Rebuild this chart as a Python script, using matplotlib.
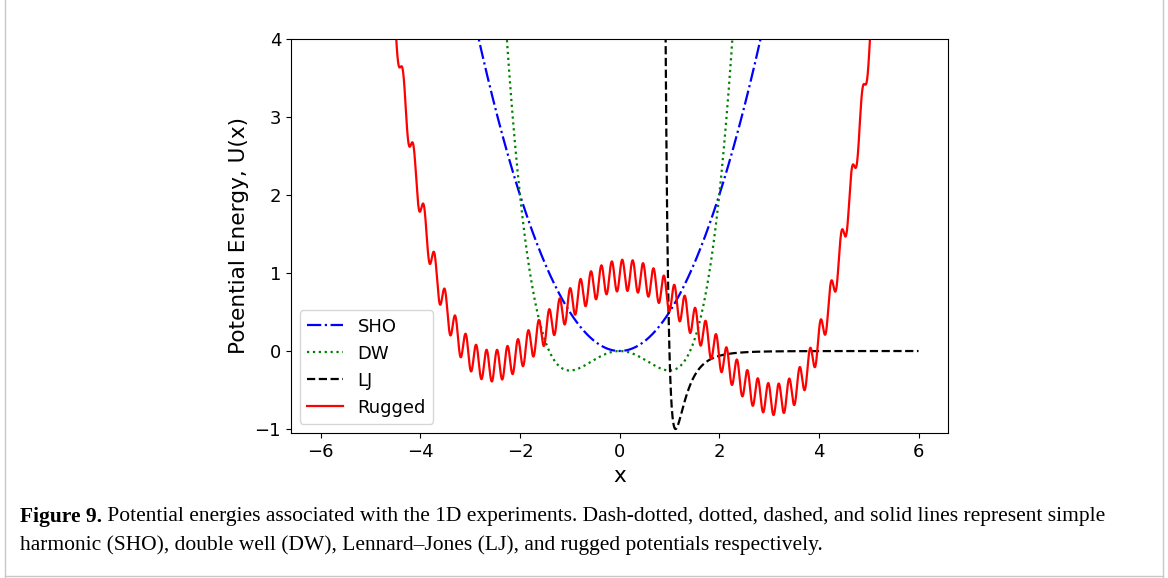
import matplotlib
matplotlib.use("Agg")
import matplotlib.pyplot as plt
import numpy as np
from matplotlib.lines import Line2D

# curve parameters
x_range = (-6.0, 6.0)
lj_range = (0.8, 6.0)
sho_coefs = [0.5, 0.0, 0.0]                       # U = x^2 / 2
dw_coefs = [0.25, 0.0, -0.5, 0.0, 0.0]             # U = x^4/4 - x^2/2
lj_eps, lj_sigma = 1.0, 1.0
rugged_coefs = [0.0211, -0.0183, -0.3343, 0.0709, 0.968]
rugged_amp, rugged_freq = 0.2, 30.0

labels = ["SHO", "DW", "LJ", "Rugged"]
xticks = [-6, -4, -2, 0, 2, 4, 6]
yticks = [-1, 0, 1, 2, 3, 4]

caption_bold = "Figure 9."
caption_rest = (" Potential energies associated with the 1D experiments. Dash-dotted, dotted, dashed, and solid lines represent simple",
                "harmonic (SHO), double well (DW), Lennard\u2013Jones (LJ), and rugged potentials respectively.")

x = np.linspace(x_range[0], x_range[1], 4000)
x_lj = np.linspace(lj_range[0], lj_range[1], 2000)
u_sho = np.polyval(sho_coefs, x)
u_dw = np.polyval(dw_coefs, x)
u_lj = 4 * lj_eps * ((lj_sigma / x_lj) ** 12 - (lj_sigma / x_lj) ** 6)
u_rug = np.polyval(rugged_coefs, x) + rugged_amp * np.sin(rugged_freq * x)

fig = plt.figure(figsize=(11.68, 5.78), dpi=100)
ax = fig.add_axes([0.249, 0.251, 0.563, 0.6815])
ax.plot(x, u_sho, 'b-.', lw=1.6, label=labels[0])
ax.plot(x, u_dw, 'g:', lw=1.6, label=labels[1])
ax.plot(x_lj, u_lj, 'k--', lw=1.6, label=labels[2])
ax.plot(x, u_rug, 'r-', lw=1.6, label=labels[3])
ax.set_xlim(-6.6, 6.6)
ax.set_ylim(-1.05, 4)
ax.set_xticks(xticks)
ax.set_yticks(yticks)
ax.tick_params(labelsize=13)
ax.set_xlabel("x", fontsize=15.6)
ax.set_ylabel("Potential Energy, U(x)", fontsize=15.6)
ax.legend(loc='lower left', fontsize=13)

# caption
t1 = fig.text(20 / 1168, 1 - 517 / 578, caption_bold, family='Liberation Serif',
              fontsize=15.5, weight='bold', va='center')
fig.canvas.draw()
bb = t1.get_window_extent()
fig.text(bb.x1 / fig.bbox.width, 1 - 517 / 578, caption_rest[0], family='Liberation Serif',
         fontsize=15.5, va='center')
fig.text(20 / 1168, 1 - 545 / 578, caption_rest[1], family='Liberation Serif',
         fontsize=15.5, va='center')

# thin frame around the figure panel
for xs, ys in [([0.004, 0.004], [0, 1]), ([0.996, 0.996], [0, 1]), ([0.004, 0.996], [0.003, 0.003])]:
    fig.add_artist(Line2D(xs, ys, color='#c8c8c8', lw=1.0, transform=fig.transFigure))

fig.savefig("out.png", dpi=100)
